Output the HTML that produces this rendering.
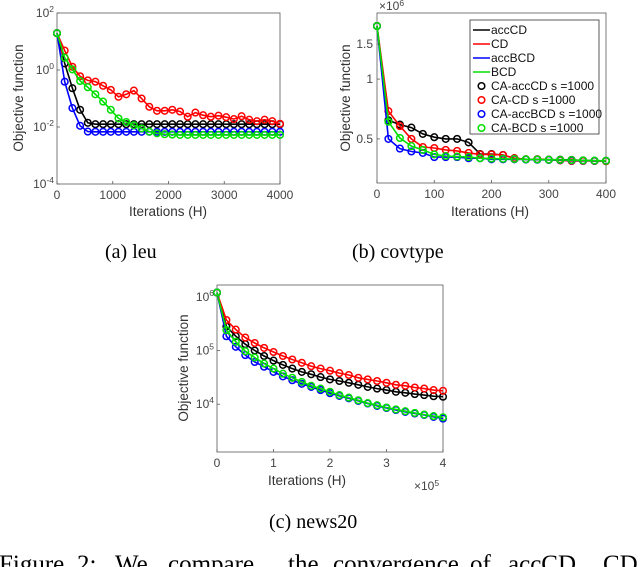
<!DOCTYPE html>
<html><head><meta charset="utf-8"><style>
html,body{margin:0;padding:0;background:#fff;}
svg{display:block;}
.tk{font-family:"Liberation Sans",sans-serif;font-size:12px;fill:#444;}
.lab{font-family:"Liberation Sans",sans-serif;font-size:13.5px;fill:#333;}
.cap{font-family:"Liberation Serif",serif;font-size:20px;fill:#000;}
.fc{font-family:"Liberation Serif",serif;font-size:25px;fill:#000;}
.lg{font-family:"Liberation Sans",sans-serif;font-size:12px;fill:#111;}
</style></head><body>
<svg id="fig" width="640" height="567" viewBox="0 0 640 567" xmlns="http://www.w3.org/2000/svg">
<g id="chartA"></g>
<g id="chartB"></g>
<g id="chartC"></g>
<text class="cap" x="105" y="258">(a) leu</text>
<text class="cap" x="352" y="258">(b) covtype</text>
<text class="cap" x="269" y="528">(c) news20</text>
<text class="fc" y="572"><tspan x="-1">Figure</tspan><tspan x="77">2:</tspan><tspan x="115">We</tspan><tspan x="168">compare</tspan><tspan x="288">the</tspan><tspan x="333">convergence</tspan><tspan x="470">of</tspan><tspan x="508">accCD,</tspan><tspan x="603">CD</tspan></text>
</svg>
<script>
// ---- data: leu ----
const leuCount = 30;
const leuXMax = 4000;
const leuAccCD = [19.5,1.7,0.23,0.04,0.014,0.0125,0.0125,0.0125,0.0125,0.0125,0.0125,0.0125,0.0125,0.0125,0.0125,0.0125,0.0125,0.0125,0.0125,0.0125,0.0125,0.0125,0.0125,0.0125,0.0125,0.0125,0.0125,0.0125,0.0125,0.0125];
const leuCD = [19.5,4.8,1.3,0.6,0.43,0.39,0.28,0.2,0.115,0.14,0.19,0.1,0.051,0.037,0.037,0.04,0.035,0.023,0.032,0.026,0.023,0.025,0.022,0.019,0.024,0.018,0.016,0.018,0.016,0.013];
const leuAccBCD = [19.5,0.39,0.046,0.011,0.0069,0.0068,0.0068,0.0068,0.0068,0.0068,0.0068,0.0068,0.0068,0.0068,0.0068,0.0068,0.0068,0.0068,0.0068,0.0068,0.0068,0.0068,0.0068,0.0068,0.0068,0.0068,0.0068,0.0068,0.0068,0.0068];
const leuBCD = [19.5,2.7,1.05,0.41,0.25,0.14,0.078,0.04,0.02,0.015,0.0115,0.0089,0.0069,0.006,0.0056,0.0054,0.0053,0.0053,0.0053,0.0053,0.0053,0.0053,0.0053,0.0053,0.0053,0.0053,0.0053,0.0053,0.0053,0.0053];
const leuYTicks = [2,0,-2,-4];
const leuXTicks = [0,1000,2000,3000,4000];
// ---- data: covtype (x1e6) ----
const covCount = 21;
const covXMax = 400;
const covAccCD = [1.85,0.62,0.59,0.57,0.53,0.51,0.50,0.50,0.48,0.42,0.42,0.415,0.40,0.395,0.395,0.393,0.393,0.392,0.39,0.388,0.388];
const covCD = [1.85,0.69,0.58,0.50,0.455,0.45,0.44,0.435,0.425,0.418,0.418,0.415,0.40,0.395,0.395,0.393,0.39,0.387,0.387,0.387,0.386];
const covAccBCD = [1.85,0.50,0.447,0.432,0.425,0.405,0.405,0.405,0.40,0.40,0.395,0.395,0.395,0.394,0.393,0.392,0.391,0.39,0.389,0.388,0.388];
const covBCD = [1.85,0.61,0.505,0.46,0.44,0.418,0.41,0.408,0.405,0.40,0.398,0.397,0.396,0.395,0.394,0.393,0.392,0.391,0.39,0.389,0.388];
const covYTicks = [0.5,1,1.5];
const covYTickLabels = ["0.5","1","1.5"];
const covXTicks = [0,100,200,300,400];
// ---- data: news20 ----
const newsCount = 25;
const newsXMax = 4;
const newsAccCD = [1.2e6,2.8e5,1.85e5,1.31e5,1.0e5,7.9e4,6.5e4,5.4e4,4.6e4,4.0e4,3.6e4,3.2e4,2.9e4,2.7e4,2.5e4,2.3e4,2.1e4,1.95e4,1.83e4,1.7e4,1.63e4,1.54e4,1.48e4,1.41e4,1.38e4];
const newsCD = [1.2e6,3.7e5,2.45e5,1.74e5,1.38e5,1.12e5,9.4e4,7.9e4,6.8e4,5.9e4,5.1e4,4.6e4,4.2e4,3.8e4,3.5e4,3.1e4,2.9e4,2.7e4,2.5e4,2.3e4,2.2e4,2.05e4,1.95e4,1.83e4,1.78e4];
const newsAccBCD = [1.2e6,1.85e5,1.17e5,8.2e4,6.1e4,5.0e4,4.0e4,3.3e4,2.8e4,2.4e4,2.1e4,1.83e4,1.6e4,1.43e4,1.29e4,1.15e4,1.03e4,9.3e3,8.5e3,7.8e3,7.2e3,6.7e3,6.3e3,5.8e3,5.4e3];
const newsBCD = [1.2e6,2.4e5,1.45e5,9.7e4,7.4e4,5.7e4,4.6e4,3.7e4,3.1e4,2.6e4,2.2e4,1.95e4,1.7e4,1.48e4,1.33e4,1.18e4,1.05e4,9.6e3,8.7e3,8.0e3,7.4e3,6.9e3,6.4e3,6.0e3,5.7e3];
const newsYTicks = [6,5,4];
const newsXTicks = [0,1,2,3,4];
const legendLabels = ["accCD","CD","accBCD","BCD","CA-accCD s =1000","CA-CD s =1000","CA-accBCD s =1000","CA-BCD s =1000"];

const NS="http://www.w3.org/2000/svg";
const COLORS=["#000000","#ff0000","#0000ff","#00e000"];
const NAMES=["accCD","cd","accBCD","bcd"];
function mk(parent,tag,attrs){const e=document.createElementNS(NS,tag);for(const k in attrs)e.setAttribute(k,attrs[k]);parent.appendChild(e);return e;}

function chart(g,box,xMax,count,series,xScaleFn,yScaleFn,prefix){
  const [x0,y0,x1,y1]=box;
  const frame=mk(g,'rect',{x:x0,y:y0,width:x1-x0,height:y1-y0,fill:'#fff',stroke:'#5a5a5a','stroke-width':0.8});
  
  
  series.forEach((vals,si)=>{
    const sg=mk(g,'g',{});
    
    
    const pts=vals.map((v,i)=>[xScaleFn(i*xMax/(count-1)),yScaleFn(v)]);
    const ln=mk(sg,'polyline',{points:pts.map(p=>p[0].toFixed(1)+','+p[1].toFixed(1)).join(' '),fill:'none',stroke:COLORS[si],'stroke-width':1.6});
    
    
    pts.forEach(p=>{
      const c=mk(sg,'circle',{cx:p[0].toFixed(1),cy:p[1].toFixed(1),r:3.3,fill:'none',stroke:COLORS[si],'stroke-width':1.5});
      
      
    });
  });
}
function xTicks(g,box,ticks,xs,labels,prefix){
  ticks.forEach((t,i)=>{
    const x=xs(t);
    mk(g,'line',{x1:x,x2:x,y1:box[3],y2:box[3]-3,stroke:'#5a5a5a','stroke-width':0.8});
    const tx=mk(g,'text',{x:x,y:box[3]+15,'text-anchor':'middle',class:'tk'});
    tx.textContent=labels[i];
    
    
  });
}

// Chart A
(function(){
  const g=document.getElementById('chartA');
  const box=[57,13,280,184];
  const xs=v=>box[0]+v/leuXMax*(box[2]-box[0]);
  const ys=v=>box[1]+(2-Math.log10(v))/6*(box[3]-box[1]);
  chart(g,box,leuXMax,leuCount,[leuAccCD,leuCD,leuAccBCD,leuBCD],xs,ys,'leu');
  xTicks(g,box,leuXTicks,xs,leuXTicks.map(String),'leu');
  leuYTicks.forEach(e=>{
    const y=box[1]+(2-e)/6*(box[3]-box[1]);
    mk(g,'line',{x1:box[0],x2:box[0]+3,y1:y,y2:y,stroke:'#5a5a5a','stroke-width':0.8});
    const t=mk(g,'text',{x:box[0]-3,y:y+4,'text-anchor':'end',class:'tk'});
    
    
    t.textContent='10';
    const s=mk(t,'tspan',{dy:-5,'font-size':'8.5px'});s.textContent=String(e);
  });
  const yl=mk(g,'text',{x:0,y:0,transform:'translate(23,98) rotate(-90)','text-anchor':'middle',class:'lab'});
  yl.textContent='Objective function';
  
  
  const xl=mk(g,'text',{x:168,y:216,'text-anchor':'middle',class:'lab'});
  xl.textContent='Iterations (H)';
  
  
})();

// Chart B
(function(){
  const g=document.getElementById('chartB');
  const box=[377,13,606,183];
  const lmin=Math.log10(0.30),lmax=Math.log10(2.15);
  const xs=v=>box[0]+v/covXMax*(box[2]-box[0]);
  const ys=v=>box[1]+(lmax-Math.log10(v))/(lmax-lmin)*(box[3]-box[1]);
  chart(g,box,covXMax,covCount,[covAccCD,covCD,covAccBCD,covBCD],xs,ys,'covtype');
  xTicks(g,box,covXTicks,xs,covXTicks.map(String),'covtype');
  covYTicks.forEach((v,i)=>{
    const y=ys(v);
    mk(g,'line',{x1:box[0],x2:box[0]+3,y1:y,y2:y,stroke:'#5a5a5a','stroke-width':0.8});
    const t=mk(g,'text',{x:box[0]-4,y:y+4,'text-anchor':'end',class:'tk'});
    t.textContent=covYTickLabels[i];
    
    
  });
  const ex=mk(g,'text',{x:379,y:10,class:'tk'});
  
  
  ex.textContent='\u00d710';
  const es=mk(ex,'tspan',{dy:-4,'font-size':'8.5px'});es.textContent='6';
  const yl=mk(g,'text',{x:0,y:0,transform:'translate(350,98) rotate(-90)','text-anchor':'middle',class:'lab'});
  yl.textContent='Objective function';
  
  
  const xl=mk(g,'text',{x:490,y:216,'text-anchor':'middle',class:'lab'});
  xl.textContent='Iterations (H)';
  
  
  // legend
  const lg=mk(g,'g',{});
  
  
  mk(lg,'rect',{x:470,y:20,width:129,height:114,fill:'#fff',stroke:'#333','stroke-width':0.8});
  legendLabels.forEach((lab,i)=>{
    const y=30+i*14;
    const c=COLORS[i%4];
    const e=mk(lg,'g',{});
    
    
    if(i<4) mk(e,'line',{x1:473,x2:490,y1:y,y2:y,stroke:c,'stroke-width':1.6});
    else mk(e,'circle',{cx:481.5,cy:y,r:3.3,fill:'none',stroke:c,'stroke-width':1.5});
    const t=mk(e,'text',{x:491,y:y+4.2,class:'lg'});t.textContent=lab;
  });
})();

// Chart C
(function(){
  const g=document.getElementById('chartC');
  const box=[217,285,443,452];
  const lmax=6.22,lmin=3.11;
  const xs=v=>box[0]+v/newsXMax*(box[2]-box[0]);
  const ys=v=>box[1]+(lmax-Math.log10(v))/(lmax-lmin)*(box[3]-box[1]);
  chart(g,box,newsXMax,newsCount,[newsAccCD,newsCD,newsAccBCD,newsBCD],xs,ys,'news20');
  xTicks(g,box,newsXTicks,xs,newsXTicks.map(String),'news20');
  newsYTicks.forEach(e=>{
    const y=box[1]+(lmax-e)/(lmax-lmin)*(box[3]-box[1]);
    mk(g,'line',{x1:box[0],x2:box[0]+3,y1:y,y2:y,stroke:'#5a5a5a','stroke-width':0.8});
    const t=mk(g,'text',{x:box[0]-3,y:y+4,'text-anchor':'end',class:'tk'});
    
    
    t.textContent='10';
    const s=mk(t,'tspan',{dy:-5,'font-size':'8.5px'});s.textContent=String(e);
  });
  const ex=mk(g,'text',{x:414,y:490,class:'tk'});
  
  
  ex.textContent='\u00d710';
  const es=mk(ex,'tspan',{dy:-4,'font-size':'8.5px'});es.textContent='5';
  const yl=mk(g,'text',{x:0,y:0,transform:'translate(188,368) rotate(-90)','text-anchor':'middle',class:'lab'});
  yl.textContent='Objective function';
  
  
  const xl=mk(g,'text',{x:307,y:485,'text-anchor':'middle',class:'lab'});
  xl.textContent='Iterations (H)';
  
  
})();
</script>
</body></html>
